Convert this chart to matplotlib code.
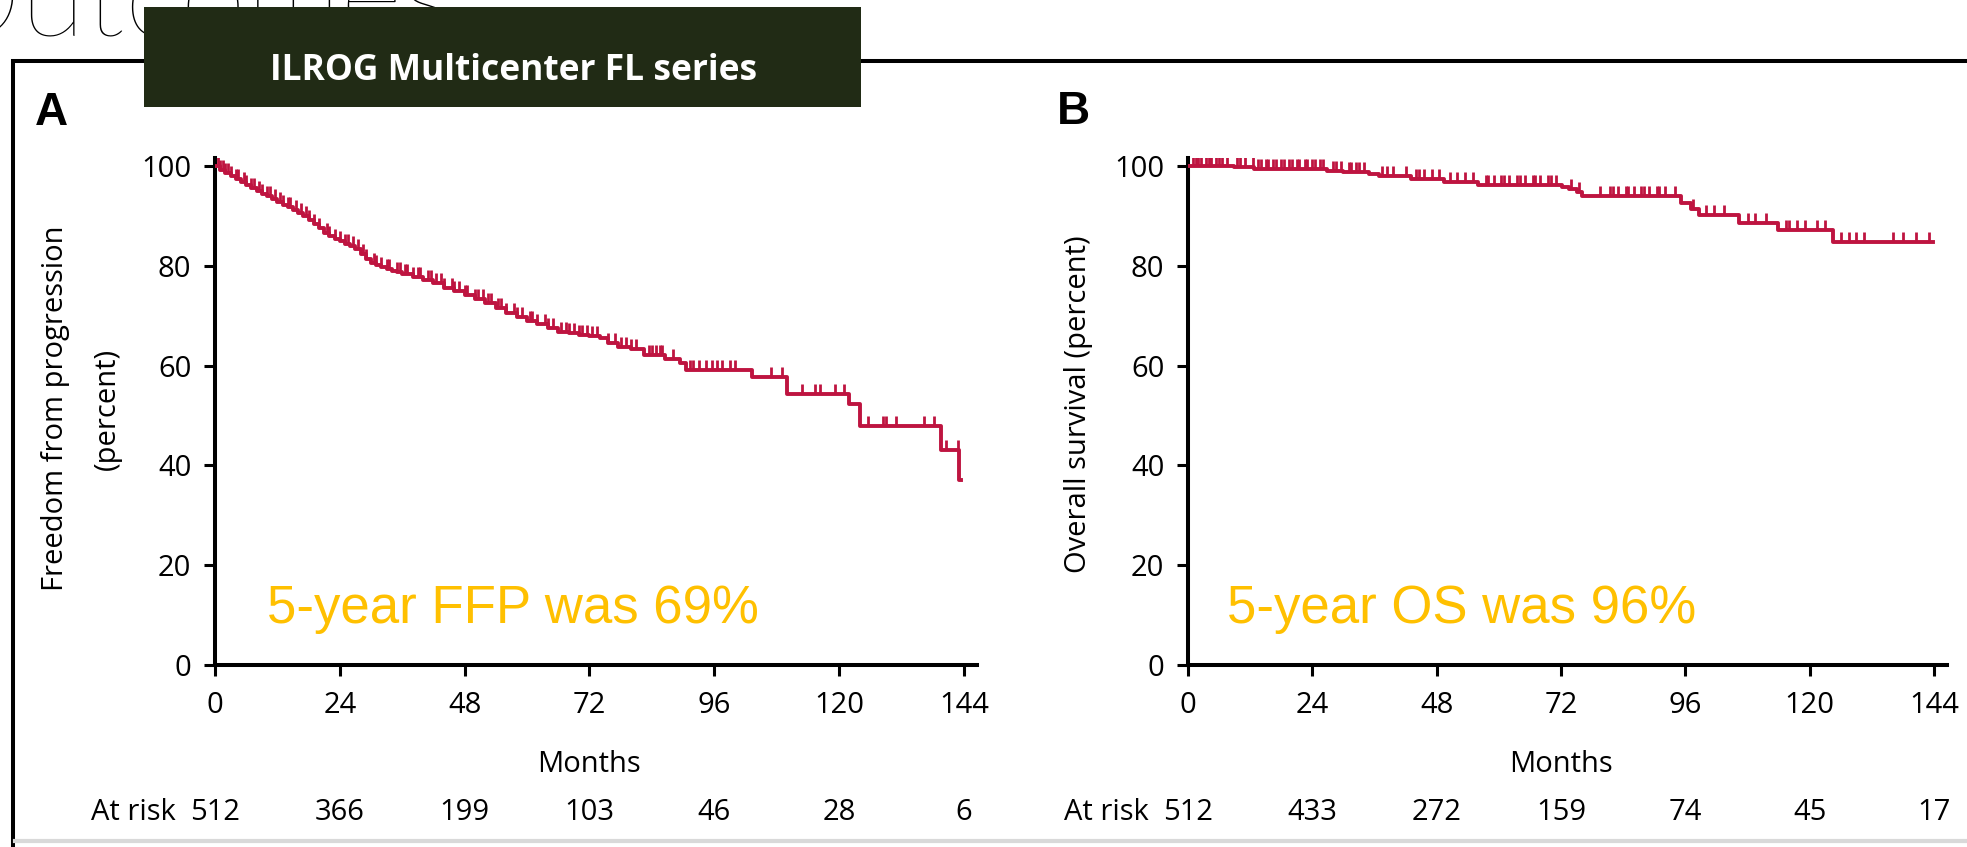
import numpy as np
import matplotlib
matplotlib.use("Agg")
import matplotlib.pyplot as plt
from matplotlib.lines import Line2D
from matplotlib.patches import Rectangle
from matplotlib.transforms import blended_transform_factory

plt.rcParams['font.family'] = ['Open Sans', 'DejaVu Sans']

# Kaplan-Meier steps (months, percent)
ffp_months = [0, 1, 2, 3, 4, 5, 6, 7, 8, 9, 10, 11, 12, 13, 14, 15, 16, 17, 18, 19,
              20, 21, 22, 23, 24, 25, 26, 27, 28, 29, 30, 31, 32, 33, 34, 35, 36, 38,
              40, 42, 44, 46, 48, 50, 52, 54, 56, 58, 60, 62, 64, 66, 68, 70, 72, 74,
              75.5, 77.5, 80, 82.5, 86.5, 89.5, 90.5, 103.3, 110, 122, 124, 139.7, 143]
ffp_pct = [100, 99.2, 98.6, 98.0, 97.3, 96.8, 96.2, 95.6, 95.0, 94.4, 93.9, 93.3, 92.7,
           92.2, 91.7, 91.2, 90.6, 90.0, 89.2, 88.4, 87.5, 86.6, 85.9, 85.3, 84.9, 84.4,
           84.0, 83.3, 82.4, 81.4, 80.6, 80.1, 79.7, 79.4, 79.0, 78.7, 78.4, 77.8, 77.1,
           76.5, 75.6, 74.9, 74.2, 73.3, 72.5, 71.6, 70.6, 69.8, 69.0, 68.3, 67.5, 66.8,
           66.5, 66.2, 66.0, 65.5, 64.5, 63.8, 63.4, 62.1, 61.4, 60.5, 59.1, 57.8, 54.4,
           52.4, 47.9, 43.1, 37.1]
ffp_end = 143.4
ffp_censor = [0.5, 1, 1.5, 2, 2.5, 3, 4, 4.5, 5.5, 6, 7, 7.5, 8.5, 9, 10, 10.5, 11.5,
              12.5, 13, 14, 14.5, 15.5, 16.5, 17.5, 18, 19, 20, 21.5, 22, 23, 24, 25,
              25.5, 26.5, 27.5, 28.5, 29, 30.5, 31, 32, 33, 33.5, 35, 35.5, 36.5, 37,
              38, 39, 39.5, 41, 41.5, 42.5, 43.5, 44, 45.5, 46, 47, 48, 48.5, 50, 50.5,
              51.5, 52.5, 53, 54.5, 55, 56, 57.5, 58, 59, 60.5, 61, 62, 63.5, 64, 65,
              66.5, 67.5, 68, 69, 70, 70.5, 71.5, 72.5, 73.5, 75.6, 77, 78, 79, 80, 81,
              83.4, 84, 84.8, 85.5, 85.9, 88, 91.3, 92, 93, 94.5, 95.5, 96.5, 97.5, 99,
              100, 107, 109, 112.8, 115.3, 116.3, 119.2, 120.9, 125.6, 128.5, 129, 131,
              136.4, 138.3, 140.5, 142.9]

os_months = [0, 8.8, 12.7, 26.8, 30, 34.9, 36.9, 43, 49.5, 56, 72.1, 73.5, 75, 76.1,
             95.2, 97, 98.6, 106.3, 113.9, 124.4]
os_pct = [100, 99.7, 99.3, 98.9, 98.7, 98.3, 97.9, 97.3, 96.7, 96.2, 95.8, 95.3, 94.7,
          93.9, 92.5, 91.3, 90.2, 88.5, 87.2, 84.8]
os_end = 143.8
os_censor = [1, 1.5, 2, 2.5, 3.5, 4, 4.5, 5.5, 6, 6.5, 7.5, 9.5, 10, 11, 12.5, 13.5, 14,
             15, 15.5, 16.5, 17, 18, 18.5, 19.5, 20, 21, 21.5, 22.5, 23, 24, 24.5, 25.5,
             26, 28, 28.5, 29.5, 31, 31.5, 32.5, 33, 34, 37.5, 38.5, 39.5, 42, 44, 44.5,
             45.5, 47, 48.5, 50.5, 52, 53.5, 55, 57.5, 58, 59, 60.5, 61, 62, 63.5, 64,
             65, 66.5, 67, 68, 69.5, 70, 71, 74, 75.5, 79.5, 81.5, 82, 83, 84.5, 85,
             86, 87.5, 88, 89, 90.5, 91, 92, 94, 97.5, 100, 101.5, 103.5, 108, 109.5,
             111.5, 115.5, 116, 117.5, 119, 121.5, 123, 126, 127.5, 129, 130.5, 136, 138,
             140.5, 143]

risk_times = [0, 24, 48, 72, 96, 120, 144]
ffp_at_risk = [512, 366, 199, 103, 46, 28, 6]
os_at_risk = [512, 433, 272, 159, 74, 45, 17]

y_ticks = [0, 20, 40, 60, 80, 100]

RED = "#BE1440"
GOLD = "#FFC000"
W, H = 1967, 847


def fx(p):
    return p / W


def fy(p):
    return 1 - p / H


fig = plt.figure(figsize=(W / 100, H / 100), dpi=100)
fig.patch.set_facecolor("white")

# page decorations
fig.text(fx(-72), fy(36), "Outcomes", fontsize=86, family=["Lato", "Open Sans"],
         fontweight="light", va="baseline", color="black", zorder=1)
fig.add_artist(Line2D([fx(12.5), fx(12.5), 1.0], [0, fy(61), fy(61)],
                      transform=fig.transFigure, color="black", lw=2.9,
                      solid_joinstyle="miter", zorder=2))
fig.add_artist(Line2D([fx(15), 1.0], [fy(841), fy(841)], transform=fig.transFigure,
                      color="#d9d9d9", lw=3, zorder=2))
fig.add_artist(Rectangle((fx(144), fy(107)), (861 - 144) / W, 100 / H,
                         transform=fig.transFigure, facecolor="#212b15",
                         edgecolor="none", zorder=5))
fig.text(fx(514), fy(80), "ILROG Multicenter FL series", color="white",
         fontsize=25.5, fontweight="bold", ha="center", va="baseline", zorder=6)


def km_panel(rect, t, s, t_end, cens, at_risk):
    ax = fig.add_axes(rect)
    tt = np.append(t, t_end)
    ss = np.append(s, s[-1])
    ax.step(tt, ss, where="post", color=RED, lw=2.8, zorder=3)
    idx = np.searchsorted(t, cens, side="right") - 1
    ax.plot(cens, np.array(s)[idx], ls="none", marker=2, ms=7, mew=2.0,
            color=RED, zorder=3)

    ax.set_xlim(0, 146.5)
    ax.set_ylim(0, 101.5)
    ax.set_xticks(risk_times)
    ax.set_yticks(y_ticks)
    for side in ["top", "right"]:
        ax.spines[side].set_visible(False)
    for side in ["left", "bottom"]:
        ax.spines[side].set_linewidth(2.9)
    ax.tick_params(direction="out", length=8, width=2.2, labelsize=21,
                   colors="black")
    ax.tick_params(axis="x", pad=11)
    ax.tick_params(axis="y", pad=9)
    ax.patch.set_alpha(0)

    tr = blended_transform_factory(ax.transData, fig.transFigure)
    ax.text(72, fy(772), "Months", transform=tr, ha="center", va="baseline",
            fontsize=21)
    ax.text(-7.5, fy(820), "At risk", transform=tr, ha="right", va="baseline",
            fontsize=21)
    for tm, n in zip(risk_times, at_risk):
        ax.text(tm, fy(820), str(n), transform=tr, ha="center", va="baseline",
                fontsize=21)
    return ax


yb = fy(665)
hh = (665 - 158.5) / H
ax_a = km_panel([fx(215), yb, (976.8 - 215) / W, hh],
                ffp_months, ffp_pct, ffp_end, ffp_censor, ffp_at_risk)
ax_b = km_panel([fx(1188), yb, (1947 - 1188) / W, hh],
                os_months, os_pct, os_end, os_censor, os_at_risk)

# axis titles
fig.text(fx(56), fy(408), "Freedom from progression", rotation=90, ha="center",
         va="center", fontsize=21)
fig.text(fx(107), fy(409), "(percent)", rotation=90, ha="center", va="center",
         fontsize=21)
fig.text(fx(1078), fy(404), "Overall survival (percent)", rotation=90, ha="center",
         va="center", fontsize=21)

# panel letters
fig.text(fx(35), fy(125), "A", fontsize=33, fontweight="bold",
         family=["Liberation Sans", "DejaVu Sans"], va="baseline")
fig.text(fx(1057), fy(124), "B", fontsize=33, fontweight="bold",
         family=["Liberation Sans", "DejaVu Sans"], va="baseline")

# highlighted notes
fig.text(fx(267), fy(623), "5-year FFP was 69%", fontsize=38, color=GOLD,
         family=["Liberation Sans", "DejaVu Sans"], va="baseline")
fig.text(fx(1227), fy(623), "5-year OS was 96%", fontsize=38, color=GOLD,
         family=["Liberation Sans", "DejaVu Sans"], va="baseline")

fig.savefig("out.png", dpi=100)
